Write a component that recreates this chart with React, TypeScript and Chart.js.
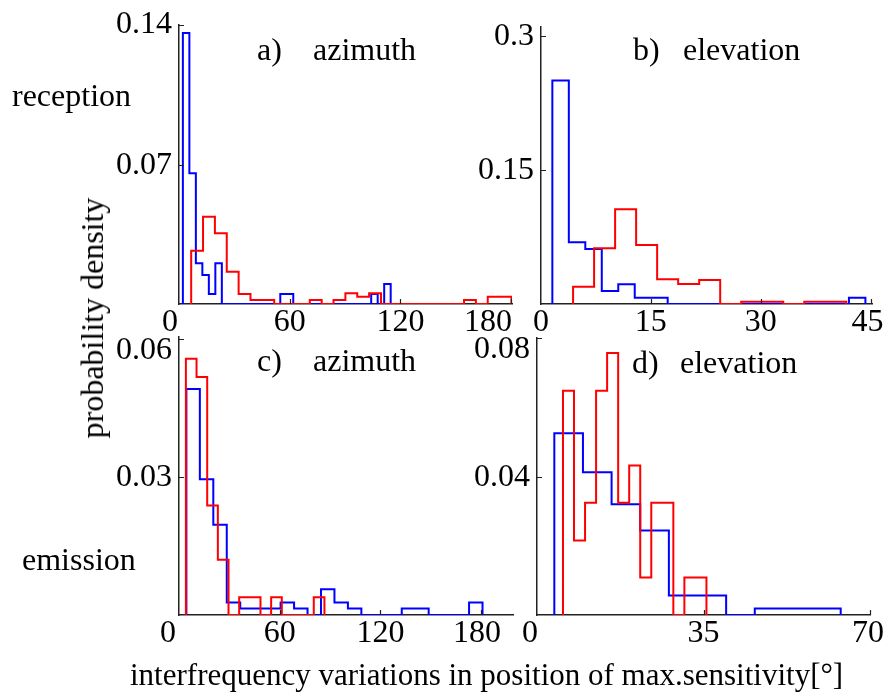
import React, { useEffect, useRef } from 'react';
import { Chart, registerables } from 'chart.js';

Chart.register(...registerables);

// ---------- data (histogram bins: first edge, bin width, densities) ----------
// a) reception, azimuth
const aBlueStart = 2.1;
const aBlueWidth = 3.52;
const aBlueValues = [0.136, 0.0656, 0.0204, 0.0146, 0.005, 0.0204, 0, 0, 0, 0, 0, 0, 0, 0, 0, 0.005, 0.005, 0, 0, 0, 0, 0, 0, 0, 0, 0, 0, 0, 0, 0.005, 0, 0.01];
const aRedStart = 6.6;
const aRedWidth = 6.43;
const aRedValues = [0.0267, 0.0438, 0.0355, 0.0162, 0.005, 0.002, 0.002, 0, 0, 0, 0.002, 0, 0.002, 0.0054, 0.0037, 0.0054, 0, 0, 0, 0, 0, 0, 0, 0.002, 0, 0.0037, 0.0037];
const aXTicks = [0, 60, 120, 180];
const aYTicks = [0, 0.07, 0.14];

// b) reception, elevation
const bBlueStart = 1.55;
const bBlueWidth = 2.25;
const bBlueValues = [0.25, 0.069, 0.0616, 0.0146, 0.022, 0.0071, 0.0071, 0, 0, 0, 0, 0, 0, 0, 0, 0, 0, 0, 0.0071];
const bRedStart = 4.38;
const bRedWidth = 2.87;
const bRedValues = [0.0194, 0.0623, 0.106, 0.066, 0.0276, 0.0224, 0.0269, 0, 0.0026, 0.0026, 0, 0.0026, 0.0026];
const bXTicks = [0, 15, 30, 45];
const bYTicks = [0, 0.15, 0.3];

// c) emission, azimuth
const cBlueStart = 4.4;
const cBlueWidth = 8.02;
const cBlueValues = [0.0491, 0.0295, 0.0196, 0.0027, 0.0014, 0.0014, 0.0014, 0.0027, 0.0014, 0, 0.0056, 0.0027, 0.0014, 0, 0, 0, 0.0014, 0.0014, 0, 0, 0, 0.0027];
const cRedStart = 4.1;
const cRedWidth = 6.35;
const cRedValues = [0.0557, 0.0517, 0.0238, 0.012, 0, 0.00385, 0.00385, 0, 0.00385, 0, 0, 0, 0.00385];
const cXTicks = [0, 60, 120, 180];
const cYTicks = [0, 0.03, 0.06];

// d) emission, elevation
const dBlueStart = 3.64;
const dBlueWidth = 6.02;
const dBlueValues = [0.0525, 0.0412, 0.032, 0.0244, 0.0056, 0.0056, 0, 0.0019, 0.0019, 0.0019];
const dRedStart = 5.46;
const dRedWidth = 2.32;
const dRedValues = [0.0648, 0.0215, 0.0324, 0.0648, 0.0757, 0.0324, 0.0432, 0.0108, 0.0324, 0.0324, 0, 0.0108, 0.0108];
const dXTicks = [0, 35, 70];
const dYTicks = [0, 0.04, 0.08];

// ---------- helpers ----------
function outline(start: number, width: number, values: number[]) {
  const pts: { x: number; y: number }[] = [{ x: start, y: 0 }];
  values.forEach((v, i) => {
    pts.push({ x: start + i * width, y: v });
    pts.push({ x: start + (i + 1) * width, y: v });
  });
  pts.push({ x: start + values.length * width, y: 0 });
  return pts;
}

const FONT = '"Liberation Serif", "Times New Roman", serif';
const AXIS_COLOR = '#222';
const TICK_FONT_SIZE = 32;

const PL = 95; // space left of plot area inside canvas
const PT = 20;
const PR = 35;
const PB = 50;

// draws inward tick marks and the tick labels
const axisDecor = {
  id: 'axisDecor',
  afterDraw(chart: any, _args: any, opts: any) {
    const { ctx, chartArea } = chart;
    const xs = chart.scales.x;
    const ys = chart.scales.y;
    const xShift: number[] = opts.xShift || [];
    const yShift: number[] = opts.yShift || [];
    ctx.save();
    ctx.strokeStyle = AXIS_COLOR;
    ctx.lineWidth = 1.2;
    ctx.beginPath();
    xs.ticks.forEach((t: any) => {
      if (t.value === 0) return;
      const px = Math.round(xs.getPixelForValue(t.value)) + 0.5;
      ctx.moveTo(px, chartArea.bottom);
      ctx.lineTo(px, chartArea.bottom - 5);
    });
    ys.ticks.forEach((t: any) => {
      if (t.value === 0) return;
      const py = Math.round(ys.getPixelForValue(t.value)) + 0.5;
      ctx.moveTo(chartArea.left, py);
      ctx.lineTo(chartArea.left + 5, py);
    });
    ctx.stroke();

    ctx.fillStyle = '#000';
    ctx.font = `${TICK_FONT_SIZE}px ${FONT}`;
    ctx.textBaseline = 'alphabetic';
    ctx.textAlign = 'right';
    ys.ticks.forEach((t: any, i: number) => {
      if (t.value === 0) return;
      const py = ys.getPixelForValue(t.value) + (yShift[i] || 0);
      ctx.fillText(String(t.value), chartArea.left - 7, py + 9);
    });
    ctx.textAlign = 'center';
    xs.ticks.forEach((t: any, i: number) => {
      const px = xs.getPixelForValue(t.value) + (xShift[i] || 0);
      ctx.fillText(String(t.value), px, chartArea.bottom + 27);
    });
    ctx.restore();
  },
};

type Spec = {
  area: [number, number, number, number];
  xMax: number;
  yMax: number;
  xTicks: number[];
  yTicks: number[];
  xShift: number[];
  yShift: number[];
  blue: { x: number; y: number }[];
  red: { x: number; y: number }[];
};

const panels: Spec[] = [
  { area: [179, 25, 512, 304], xMax: 180.5, yMax: 0.14, xTicks: aXTicks, yTicks: aYTicks, xShift: [-9, 0, 0, -23], yShift: [0, 0, -1], blue: outline(aBlueStart, aBlueWidth, aBlueValues), red: outline(aRedStart, aRedWidth, aRedValues) },
  { area: [541, 27, 872, 304], xMax: 45.2, yMax: 0.31, xTicks: bXTicks, yTicks: bYTicks, xShift: [0, 0, 0, -3], yShift: [0, 0, 0], blue: outline(bBlueStart, bBlueWidth, bBlueValues), red: outline(bRedStart, bRedWidth, bRedValues) },
  { area: [179, 337, 513, 615], xMax: 199, yMax: 0.0604, xTicks: cXTicks, yTicks: cYTicks, xShift: [-11, 0, 0, -4], yShift: [0, 0, 11], blue: outline(cBlueStart, cBlueWidth, cBlueValues), red: outline(cRedStart, cRedWidth, cRedValues) },
  { area: [537, 338, 870, 615], xMax: 70, yMax: 0.08, xTicks: dXTicks, yTicks: dYTicks, xShift: [-7, 0, -2], yShift: [0, 0, 11], blue: outline(dBlueStart, dBlueWidth, dBlueValues), red: outline(dRedStart, dRedWidth, dRedValues) },
];

function HistPanel({ spec }: { spec: Spec }) {
  const ref = useRef<HTMLCanvasElement>(null);
  const [l, t, r, b] = spec.area;
  const w = r - l + PL + PR;
  const h = b - t + PT + PB;
  useEffect(() => {
    const chart = new Chart(ref.current as HTMLCanvasElement, {
      type: 'line',
      data: {
        datasets: [
          { data: spec.red, borderColor: '#ff0000', borderWidth: 2, pointRadius: 0, fill: false, tension: 0, order: 0, borderJoinStyle: 'miter' },
          { data: spec.blue, borderColor: '#0000ff', borderWidth: 2, pointRadius: 0, fill: false, tension: 0, order: 1, borderJoinStyle: 'miter' },
        ] as any,
      },
      options: {
        animation: false,
        responsive: false,
        maintainAspectRatio: false,
        events: [],
        layout: { autoPadding: false, padding: { left: 0, top: PT, right: PR, bottom: 0 } } as any,
        plugins: { legend: { display: false }, tooltip: { enabled: false }, axisDecor: { xShift: spec.xShift, yShift: spec.yShift } } as any,
        scales: {
          x: {
            type: 'linear',
            min: 0,
            max: spec.xMax,
            afterBuildTicks: (s: any) => { s.ticks = spec.xTicks.map((v) => ({ value: v })); },
            afterFit: (s: any) => { s.height = PB; },
            grid: { display: false, drawTicks: false },
            border: { display: true, color: AXIS_COLOR, width: 1.5 },
            ticks: { display: false },
          },
          y: {
            type: 'linear',
            min: 0,
            max: spec.yMax,
            afterBuildTicks: (s: any) => { s.ticks = spec.yTicks.map((v) => ({ value: v })); },
            afterFit: (s: any) => { s.width = PL; },
            grid: { display: false, drawTicks: false },
            border: { display: true, color: AXIS_COLOR, width: 1.5 },
            ticks: { display: false },
          },
        },
      } as any,
      plugins: [axisDecor],
    });
    return () => chart.destroy();
  }, []);
  return (
    <canvas
      ref={ref}
      width={w}
      height={h}
      style={{ position: 'absolute', left: l - PL, top: t - PT, width: w, height: h }}
    />
  );
}

function Label({ text, left, baseline, size = 32 }: { text: string; left: number; baseline: number; size?: number }) {
  return (
    <div
      style={{
        position: 'absolute',
        fontFamily: FONT,
        fontSize: size,
        lineHeight: `${size}px`,
        color: '#000',
        whiteSpace: 'nowrap',
        left,
        top: baseline - 0.8375 * size,
      }}
    >
      {text}
    </div>
  );
}

export default function App() {
  return (
    <div style={{ position: 'absolute', left: 0, top: 0, width: 888, height: 696, background: '#fff', overflow: 'hidden' }}>
      {panels.map((p, i) => (
        <HistPanel key={i} spec={p} />
      ))}
      <Label text="a)" left={257} baseline={60} />
      <Label text="azimuth" left={313} baseline={60} />
      <Label text="b)" left={633} baseline={60} />
      <Label text="elevation" left={683} baseline={60} />
      <Label text="c)" left={257} baseline={371} />
      <Label text="azimuth" left={313} baseline={371} />
      <Label text="d)" left={632} baseline={373} />
      <Label text="elevation" left={680} baseline={373} />
      <Label text="reception" left={12} baseline={106} />
      <Label text="emission" left={22} baseline={570} />
      <div
        style={{
          position: 'absolute',
          fontFamily: FONT,
          fontSize: 32,
          lineHeight: '32px',
          color: '#000',
          whiteSpace: 'nowrap',
          left: 92,
          top: 318,
          transform: 'translate(-50%, -50%) rotate(-90deg)',
        }}
      >
        probability density
      </div>
      <Label text="interfrequency variations in position of max.sensitivity[°]" left={130} baseline={685} size={31} />
    </div>
  );
}
